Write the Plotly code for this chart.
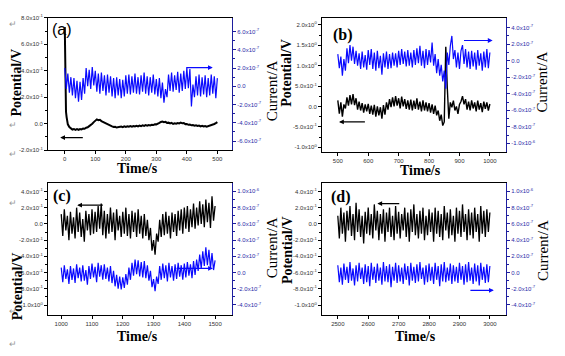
import plotly.graph_objects as go

# ---------------- data (potential in V, current in units of 1e-7 A) ----------------
step = 5

# (a)
pot_a_t_early = [0, 1, 2, 3, 4, 6, 8]
pot_a_early = [0.73, 0.45, 0.22, 0.13, 0.09, 0.05, 0.02]
pot_a_start = 10
pot_a = [-0.005, -0.025, -0.035, -0.044, -0.040, -0.047, -0.041, -0.046, -0.040, -0.043,
         -0.036, -0.038, -0.030, -0.027, -0.018, -0.012, 0.000, 0.012, 0.026, 0.033,
         0.027, 0.030, 0.020, 0.014, 0.004, 0.001, -0.008, -0.010, -0.017, -0.020,
         -0.025, -0.023, -0.029, -0.026, -0.027, -0.022, -0.026, -0.020, -0.024, -0.019,
         -0.023, -0.018, -0.022, -0.017, -0.021, -0.016, -0.020, -0.014, -0.018, -0.013,
         -0.017, -0.011, -0.015, -0.010, -0.013, -0.008, -0.010, -0.004, -0.005, 0.004,
         0.006, 0.013, 0.016, 0.012, 0.014, 0.006, 0.008, 0.002, 0.006, -0.002,
         0.003, 0.000, 0.005, 0.002, 0.008, 0.003, 0.005, -0.003, -0.002, -0.008,
         -0.007, -0.012, -0.010, -0.015, -0.012, -0.017, -0.014, -0.020, -0.016, -0.021,
         -0.017, -0.022, -0.018, -0.020, -0.012, -0.010, -0.002, 0.004, 0.012]
cur_a_start = 0
cur_a = [2.0, -0.3, 1.4, -0.7, 1.0, -1.0, 0.9, -1.3, 0.6, -1.7,
         0.5, -1.5, 0.9, -0.8, 2.0, 0.0, 1.8, -0.3, 2.1, 0.1,
         1.7, -0.6, 1.4, -0.8, 1.5, -0.5, 1.2, -1.0, 1.3, -0.7,
         1.1, -1.1, 0.9, -1.3, 1.0, -1.0, 0.8, -1.3, 0.7, -1.1,
         1.2, -0.8, 1.3, -0.9, 1.1, -0.7, 1.4, -0.8, 1.0, -0.9,
         1.2, -0.6, 1.5, -0.8, 1.1, -1.0, 1.0, -0.7, 1.3, -0.9,
         0.8, -1.1, 0.9, -1.3, 0.4, -1.8, -0.3, -1.2, 1.3, -0.5,
         1.5, -0.6, 1.2, -0.4, 1.6, -0.7, 1.4, -0.5, 1.7, -0.3,
         2.0, -0.2, 1.9, -2.2, 0.2, -1.2, 1.1, -1.0, 1.3, -1.1,
         1.0, -0.9, 1.2, -1.2, 0.9, -1.0, 1.3, -0.8, 1.1, -1.3,
         0.9]

# (b)
pot_b_start = 500
pot_b = [0.15, -0.18, 0.10, -0.25, 0.05, -0.05, 0.22, 0.02, 0.28, 0.05,
         0.30, 0.03, 0.20, -0.08, 0.12, -0.10, 0.08, -0.15, 0.05, -0.12,
         0.06, -0.18, 0.02, -0.20, 0.04, -0.25, 0.00, -0.22, -0.02, -0.30,
         0.03, -0.20, 0.10, -0.08, 0.18, -0.02, 0.22, 0.00, 0.25, 0.02,
         0.20, -0.05, 0.24, 0.00, 0.18, -0.06, 0.15, -0.08, 0.17, -0.10,
         0.14, -0.06, 0.20, -0.08, 0.12, -0.12, 0.15, -0.10, 0.10, -0.12,
         0.08, -0.15, 0.05, -0.18, 0.02, -0.22, -0.10, -0.35, -0.20, -0.47,
         -0.38, 1.46, 0.45, -0.30, 0.10, -0.02, 0.14, -0.10, 0.00, -0.18,
         0.05, 0.12, 0.25, 0.05, 0.18, -0.08, 0.12, -0.10, 0.15, -0.05,
         0.10, -0.12, 0.14, -0.08, 0.08, -0.14, 0.12, -0.06, 0.10, -0.10,
         0.06]
cur_b_start = 500
cur_b = [0.8, -0.9, 0.5, -1.8, 0.2, -1.2, 1.5, -0.3, 1.9, 0.0,
         1.7, -0.4, 1.2, -0.6, 0.9, -1.0, 1.1, -0.8, 0.7, -1.1,
         1.3, -0.5, 1.4, -1.0, 1.0, -1.2, 1.2, -0.9, 0.6, -1.7,
         0.9, -0.8, 1.1, -1.0, 0.8, -0.9, 1.0, -0.6, 0.9, -0.8,
         1.2, -0.5, 1.4, -0.4, 1.1, -0.7, 1.3, -0.6, 1.0, -0.8,
         1.3, -0.5, 1.5, -0.3, 1.8, -0.6, 1.2, -0.9, 1.4, -0.5,
         1.3, -0.2, 2.2, -0.6, 0.8, -1.5, 0.2, -1.8, -0.5, -2.5,
         -1.2, -3.4, 1.0, -0.5, 1.8, 3.0, 0.2, 1.3, -0.8, 1.0,
         -1.0, 1.2, 1.9, -0.4, 1.4, -0.8, 1.1, -1.0, 1.2, -0.7,
         1.0, -1.1, 1.3, -0.6, 0.9, -1.2, 1.1, -0.8, 1.4, -0.9,
         1.0]

# (c)
pot_c_start = 1000
pot_c = [0.12, -0.15, 0.18, -0.08, 0.10, -0.20, 0.15, -0.12, 0.08, -0.18,
         0.20, -0.10, 0.14, -0.16, 0.06, -0.22, 0.16, -0.08, 0.12, -0.14,
         0.18, -0.12, 0.15, -0.10, 0.22, -0.06, 0.25, -0.14, 0.16, -0.18,
         0.12, -0.12, 0.20, -0.10, 0.14, -0.20, 0.18, -0.08, 0.10, -0.16,
         0.15, -0.12, 0.20, -0.15, 0.12, -0.18, 0.16, -0.10, 0.14, -0.16,
         0.18, -0.12, 0.10, -0.18, 0.12, -0.15, 0.05, -0.20, -0.05, -0.33,
         -0.20, -0.38, -0.12, -0.22, 0.05, -0.16, 0.12, -0.14, 0.15, -0.12,
         0.10, -0.18, 0.14, -0.10, 0.12, -0.15, 0.16, -0.08, 0.18, -0.12,
         0.20, -0.06, 0.22, -0.10, 0.18, -0.04, 0.25, -0.06, 0.20, -0.02,
         0.28, 0.00, 0.24, -0.04, 0.30, 0.02, 0.26, -0.05, 0.34, 0.04,
         0.22]
cur_c_start = 1000
cur_c = [0.6, -1.2, 0.9, -0.8, 0.4, -1.4, 0.8, -0.9, 0.5, -1.3,
         1.0, -0.7, 0.6, -1.1, 0.9, -1.0, 0.3, -1.5, 0.8, -0.8,
         1.1, -0.6, 0.7, -1.2, 1.2, -0.5, 0.9, -0.9, 1.0, -0.8,
         0.6, -1.1, 0.8, -1.3, 0.2, -1.7, -0.3, -2.0, -0.5, -2.1,
         -0.6, -1.9, -0.2, -1.5, 0.6, -0.9, 1.2, -0.4, 1.6, -0.2,
         1.5, -0.5, 1.3, -0.6, 1.4, -0.7, 0.9, -1.0, 0.2, -1.8,
         -0.8, -2.3, -0.5, -1.4, 0.8, -0.9, 1.1, -0.7, 0.9, -1.1,
         1.2, -0.6, 0.8, -1.0, 1.0, -0.8, 1.2, -0.5, 0.9, -0.9,
         1.1, -0.6, 1.3, -0.4, 1.0, -0.7, 1.4, -0.3, 1.6, 0.2,
         2.2, 0.5, 2.6, 0.8, 3.1, 0.9, 2.8, 0.5, 2.4, 0.3,
         1.5]

# (d)
pot_d_start = 2500
pot_d = [0.10, -0.18, 0.20, -0.12, 0.14, -0.22, 0.16, -0.08, 0.22, -0.15,
         0.12, -0.20, 0.26, -0.10, 0.18, -0.16, 0.10, -0.24, 0.15, -0.12,
         0.20, -0.14, 0.12, -0.18, 0.24, -0.08, 0.16, -0.20, 0.12, -0.12,
         0.18, -0.22, 0.14, -0.10, 0.20, -0.16, 0.10, -0.20, 0.22, -0.12,
         0.15, -0.18, 0.12, -0.08, 0.20, -0.16, 0.14, -0.22, 0.18, -0.10,
         0.24, -0.14, 0.12, -0.18, 0.16, -0.12, 0.20, -0.20, 0.10, -0.14,
         0.18, -0.10, 0.14, -0.22, 0.20, -0.12, 0.16, -0.16, 0.12, -0.20,
         0.22, -0.08, 0.14, -0.18, 0.18, -0.14, 0.10, -0.22, 0.20, -0.12,
         0.16, -0.16, 0.24, -0.10, 0.12, -0.20, 0.18, -0.14, 0.14, -0.18,
         0.20, -0.10, 0.12, -0.22, 0.22, -0.12, 0.16, -0.16, 0.18, -0.10,
         0.14]
cur_d_start = 2500
cur_d = [0.9, -1.2, 0.6, -1.5, 1.1, -0.9, 0.7, -1.3, 1.3, -1.0,
         0.5, -1.6, 0.9, -1.1, 1.2, -0.8, 0.6, -1.4, 1.0, -1.2,
         0.8, -1.7, 1.2, -0.9, 0.7, -1.3, 1.1, -1.0, 0.6, -1.5,
         1.3, -1.1, 0.8, -1.2, 1.0, -1.8, 0.7, -1.0, 1.2, -1.3,
         0.9, -1.1, 0.6, -1.4, 1.1, -0.9, 0.8, -1.6, 1.2, -1.0,
         0.7, -1.3, 1.0, -1.1, 1.3, -0.8, 0.6, -1.5, 0.9, -1.2,
         1.1, -1.0, 0.7, -1.4, 1.2, -0.9, 0.8, -1.7, 1.0, -1.1,
         1.3, -1.2, 0.6, -1.0, 1.1, -1.4, 0.9, -1.1, 0.7, -1.3,
         1.2, -0.9, 0.8, -1.5, 1.0, -1.2, 1.3, -1.0, 0.6, -1.4,
         1.1, -1.1, 0.9, -1.6, 1.2, -0.9, 0.7, -1.3, 1.0, -1.2,
         0.8]

# tick values / labels
time_a_ticks = [0, 100, 200, 300, 400, 500]
time_b_ticks = [500, 600, 700, 800, 900, 1000]
time_c_ticks = [1000, 1100, 1200, 1300, 1400, 1500]
time_d_ticks = [2500, 2600, 2700, 2800, 2900, 3000]

pot_a_ticks = [-0.2, 0.0, 0.2, 0.4, 0.6, 0.8]
pot_a_labels = ["-2.0x10<sup>-1</sup>", "0.0", "2.0x10<sup>-1</sup>", "4.0x10<sup>-1</sup>",
                "6.0x10<sup>-1</sup>", "8.0x10<sup>-1</sup>"]
cur_a_ticks = [-6, -4, -2, 0, 2, 4, 6]
cur_a_labels = ["-6.0x10<sup>-7</sup>", "-4.0x10<sup>-7</sup>", "-2.0x10<sup>-7</sup>", "0.0",
                "2.0x10<sup>-7</sup>", "4.0x10<sup>-7</sup>", "6.0x10<sup>-7</sup>"]
pot_b_ticks = [-1.0, -0.5, 0.0, 0.5, 1.0, 1.5, 2.0]
pot_b_labels = ["-1.0x10<sup>0</sup>", "-5.0x10<sup>-1</sup>", "0.0", "5.0x10<sup>-1</sup>",
                "1.0x10<sup>0</sup>", "1.5x10<sup>0</sup>", "2.0x10<sup>0</sup>"]
cur_b_ticks = [-10, -8, -6, -4, -2, 0, 2, 4]
cur_b_labels = ["-1.0x10<sup>-6</sup>", "-8.0x10<sup>-7</sup>", "-6.0x10<sup>-7</sup>", "-4.0x10<sup>-7</sup>",
                "-2.0x10<sup>-7</sup>", "0.0", "2.0x10<sup>-7</sup>", "4.0x10<sup>-7</sup>"]
pot_cd_ticks = [-1.0, -0.8, -0.6, -0.4, -0.2, 0.0, 0.2, 0.4]
pot_cd_labels = ["-1.0x10<sup>0</sup>", "-8.0x10<sup>-1</sup>", "-6.0x10<sup>-1</sup>", "-4.0x10<sup>-1</sup>",
                 "-2.0x10<sup>-1</sup>", "0.0", "2.0x10<sup>-1</sup>", "4.0x10<sup>-1</sup>"]
cur_cd_ticks = [-4, -2, 0, 2, 4, 6, 8, 10]
cur_cd_labels = ["-4.0x10<sup>-7</sup>", "-2.0x10<sup>-7</sup>", "0.0", "2.0x10<sup>-7</sup>",
                 "4.0x10<sup>-7</sup>", "6.0x10<sup>-7</sup>", "8.0x10<sup>-7</sup>", "1.0x10<sup>-6</sup>"]

# ---------------- figure ----------------
# the page body has an 8 px margin; the figure is sized to fit the window after it
OFF = 8
FW, FH = 565 - OFF, 356 - OFF
BLACK = "#000000"
BLUE = "#0a0aff"
AXBLUE = "#1e1e9e"
SERIF = "Liberation Serif, Times New Roman, serif"
SANS = "Liberation Sans, Arial, sans-serif"


def times(start, vals):
    return [start + step * i for i in range(len(vals))]


def px(x):
    return (x - OFF) / FW


def py(y):
    return 1 - (y - OFF) / FH


def xd(l, r):
    return [px(l), px(r)]


def yd(t, b):
    return [py(b), py(t)]


def minors(ticks):
    return [(a + b) / 2 for a, b in zip(ticks[:-1], ticks[1:])]


fig = go.Figure()

panels = [
    ("x", "y", "y5", pot_a_t_early + times(pot_a_start, pot_a), pot_a_early + pot_a,
     times(cur_a_start, cur_a), cur_a, 2.0),
    ("x2", "y2", "y6", times(pot_b_start, pot_b), pot_b, times(cur_b_start, cur_b), cur_b, 1.4),
    ("x3", "y3", "y7", times(pot_c_start, pot_c), pot_c, times(cur_c_start, cur_c), cur_c, 1.3),
    ("x4", "y4", "y8", times(pot_d_start, pot_d), pot_d, times(cur_d_start, cur_d), cur_d, 1.3),
]
for xa, yl, yr, pt, pv, ct, cv, bw in panels:
    fig.add_trace(go.Scatter(x=ct, y=cv, xaxis=xa, yaxis=yr, mode="lines",
                             line=dict(color=BLUE, width=1.2), hoverinfo="skip"))
    fig.add_trace(go.Scatter(x=pt, y=pv, xaxis=xa, yaxis=yl, mode="lines",
                             line=dict(color=BLACK, width=bw), hoverinfo="skip"))

tickfont = dict(family=SANS, size=6, color="#333333")
rtickfont = dict(family=SANS, size=6, color="#2a2aa8")


def xax(dom, rng, ticks, anchor):
    return dict(domain=dom, range=rng, anchor=anchor, tickmode="array", tickvals=ticks,
                ticktext=[str(v) for v in ticks], showline=True, linecolor=BLACK, linewidth=1,
                mirror=True, ticks="outside", ticklen=3, tickcolor=BLACK, tickwidth=1,
                tickfont=tickfont, showgrid=False, zeroline=False, fixedrange=True)


def ylax(dom, rng, ticks, labels, anchor):
    return dict(domain=dom, range=rng, anchor=anchor, tickmode="array", tickvals=ticks,
                ticktext=labels, showline=True, linecolor=BLACK, linewidth=1,
                ticks="outside", ticklen=3, tickcolor=BLACK, tickwidth=1,
                minor=dict(tickmode="array", tickvals=minors(ticks), ticks="outside",
                           ticklen=2, tickcolor=BLACK),
                tickfont=tickfont, showgrid=False, zeroline=False, fixedrange=True)


def yrax(rng, ticks, labels, anchor, over):
    return dict(range=rng, anchor=anchor, overlaying=over, side="right", tickmode="array",
                tickvals=ticks, ticktext=labels, showline=True, linecolor=AXBLUE, linewidth=1.2,
                ticks="outside", ticklen=3, tickcolor=AXBLUE, tickwidth=1,
                minor=dict(tickmode="array", tickvals=minors(ticks), ticks="outside",
                           ticklen=2, tickcolor=AXBLUE),
                tickfont=rtickfont, showgrid=False, zeroline=False, fixedrange=True)


fig.update_layout(
    width=FW, height=FH, margin=dict(l=0, r=0, t=0, b=0),
    paper_bgcolor="white", plot_bgcolor="white", showlegend=False,
    xaxis=xax(xd(48, 232), [-55, 548], time_a_ticks, "y"),
    xaxis2=xax(xd(322, 506), [448, 1053], time_b_ticks, "y2"),
    xaxis3=xax(xd(48, 232), [957, 1555], time_c_ticks, "y3"),
    xaxis4=xax(xd(322, 506), [2448, 3053], time_d_ticks, "y4"),
    yaxis=ylax(yd(14, 149), [-0.2, 0.8], pot_a_ticks, pot_a_labels, "x"),
    yaxis2=ylax(yd(14, 151), [-1.12, 2.17], pot_b_ticks, pot_b_labels, "x2"),
    yaxis3=ylax(yd(182, 317), [-1.12, 0.51], pot_cd_ticks, pot_cd_labels, "x3"),
    yaxis4=ylax(yd(182, 317), [-1.12, 0.51], pot_cd_ticks, pot_cd_labels, "x4"),
    yaxis5=yrax([-7.0, 7.5], cur_a_ticks, cur_a_labels, "x", "y"),
    yaxis6=yrax([-11.07, 5.19], cur_b_ticks, cur_b_labels, "x2", "y2"),
    yaxis7=yrax([-5.21, 11.09], cur_cd_ticks, cur_cd_labels, "x3", "y3"),
    yaxis8=yrax([-5.21, 11.09], cur_cd_ticks, cur_cd_labels, "x4", "y4"),
)

ann = []


def ptxt(text, x, y, size, family, bold=False, angle=0, color=BLACK):
    t = f"<b>{text}</b>" if bold else text
    ann.append(dict(text=t, x=px(x), y=py(y), xref="paper", yref="paper",
                    showarrow=False, textangle=angle, xanchor="center", yanchor="middle",
                    font=dict(family=family, size=size, color=color)))


# axis titles
for x, y in [(17, 80), (287, 70), (17, 288), (287, 251)]:
    ptxt("Potential/V", x, y, 14, SERIF, bold=True, angle=-90)
for x, y in [(272, 89), (542, 80), (272, 249), (543, 252)]:
    ptxt("Current/A", x, y, 15, SERIF, bold=False, angle=-90)
for x, y in [(137, 168), (420, 170), (137, 339), (415, 339)]:
    ptxt("Time/s", x, y, 14, SERIF, bold=True)

# panel labels
ptxt("(a)", 62, 26, 16, SANS, bold=False)
ptxt("(b)", 343, 31, 16, SERIF, bold=True)
ptxt("(c)", 62, 196, 16, SERIF, bold=True)
ptxt("(d)", 341, 197, 16, SERIF, bold=True)

# paragraph marks
for x, y in [(13, 20), (13, 123), (13, 153), (13, 203), (13, 313), (13, 347)]:
    ptxt("\u21b5", x, y, 9, SANS, color="#9a9a9a")


def arrow(xa, ya, x_head, x_tail, yv, color):
    ann.append(dict(x=x_head, y=yv, ax=x_tail, ay=yv, xref=xa, yref=ya, axref=xa, ayref=ya,
                    text="", showarrow=True, arrowhead=2, arrowsize=0.8, arrowwidth=1.2,
                    arrowcolor=color))


arrow("x", "y", -15, 64, -0.105, BLACK)
arrow("x", "y5", 485, 393, 2.05, BLUE)
arrow("x2", "y2", 504, 594, -0.38, BLACK)
arrow("x2", "y6", 1009, 910, 2.45, BLUE)
arrow("x3", "y3", 1052, 1140, 0.23, BLACK)
arrow("x3", "y7", 1493, 1370, 0.5, BLUE)
arrow("x4", "y4", 2630, 2707, 0.25, BLACK)
arrow("x4", "y8", 3013, 2931, -2.2, BLUE)

fig.update_layout(annotations=ann)
fig.write_html("out.html")
